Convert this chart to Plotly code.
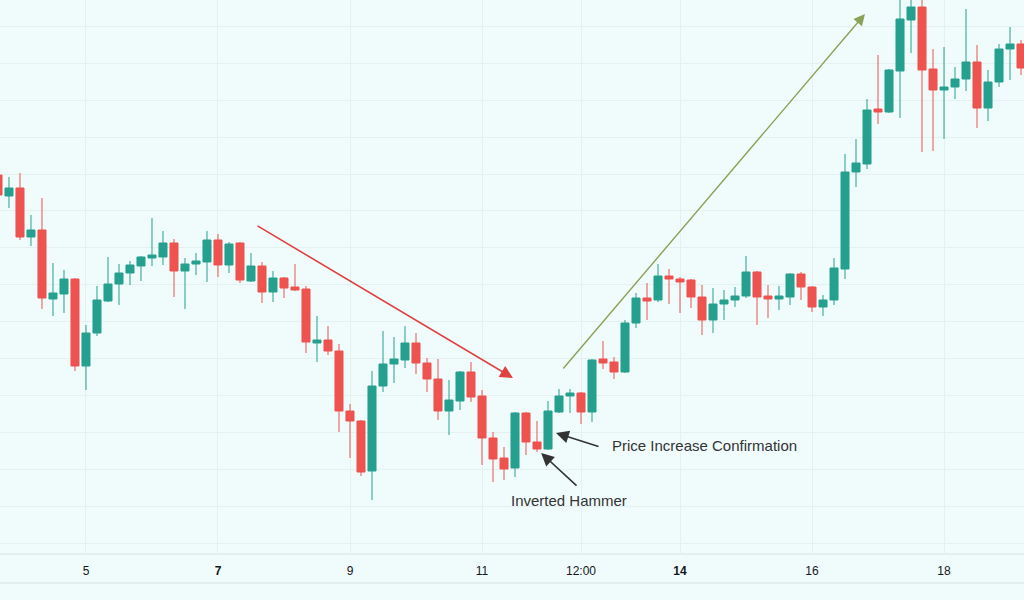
import pandas as pd
import plotly.graph_objects as go

# ============================================
# DATA  (4h candles; price in chart units)
# ============================================
first_bar = "2023-08-03 16:00"

opens = [425, 404, 412, 363, 370, 301, 306, 321, 234, 267,
         299, 316, 327, 334, 342, 343, 357, 329, 336, 338,
         360, 335, 357, 319, 334, 308, 322, 313, 311, 257,
         260, 249, 189, 179, 129, 214, 236, 240, 257, 237,
         221, 189, 199, 228, 204, 162, 142, 132, 187, 158,
         151, 188, 204, 207, 188, 241, 238, 228, 277, 302,
         300, 324, 321, 320, 303, 280, 296, 300, 304, 328,
         304, 301, 303, 326, 313, 293, 300, 331, 428, 436,
         491, 488, 529, 580, 593, 531, 510, 513, 521, 538,
         492, 518, 551, 556]
highs = [428, 423, 427, 385, 402, 337, 330, 322, 275, 314,
         343, 336, 339, 344, 382, 369, 361, 342, 347, 369,
         366, 358, 358, 347, 338, 329, 323, 336, 314, 284,
         274, 256, 196, 180, 229, 269, 263, 274, 267, 242,
         241, 220, 229, 238, 210, 168, 153, 188, 188, 179,
         199, 211, 211, 208, 241, 259, 243, 280, 307, 317,
         336, 331, 323, 321, 315, 312, 310, 313, 344, 329,
         315, 314, 327, 328, 314, 305, 342, 446, 461, 501,
         545, 531, 610, 610, 610, 551, 553, 533, 591, 555,
         530, 556, 573, 560]
lows = [402, 392, 360, 354, 291, 284, 287, 229, 210, 264,
        298, 295, 315, 319, 334, 335, 303, 291, 325, 318,
        323, 327, 317, 318, 297, 298, 302, 309, 247, 238,
        245, 168, 142, 124, 100, 208, 217, 232, 226, 208,
        180, 165, 190, 198, 135, 118, 120, 123, 145, 148,
        150, 187, 187, 176, 178, 231, 221, 227, 272, 280,
        298, 296, 287, 292, 265, 267, 280, 293, 302, 275,
        282, 290, 295, 300, 288, 284, 295, 321, 413, 431,
        476, 487, 482, 547, 448, 449, 461, 501, 509, 472,
        479, 513, 520, 525]
closes = [405, 412, 363, 370, 302, 307, 321, 234, 267, 300,
          316, 327, 335, 343, 345, 357, 329, 336, 339, 360,
          335, 356, 320, 334, 308, 322, 312, 310, 258, 260,
          249, 189, 179, 128, 214, 236, 241, 257, 237, 221,
          189, 200, 228, 203, 162, 141, 131, 187, 158, 151,
          189, 204, 207, 188, 240, 237, 228, 277, 302, 299,
          324, 321, 318, 303, 280, 296, 300, 304, 328, 303,
          301, 304, 326, 313, 293, 300, 332, 428, 437, 490,
          488, 530, 581, 593, 530, 510, 513, 521, 538, 492,
          518, 551, 556, 532]

tick_dates = ["2023-08-05", "2023-08-07", "2023-08-09", "2023-08-11",
              "2023-08-12 12:00", "2023-08-14", "2023-08-16", "2023-08-18"]
tick_labels = ["5", "<b>7</b>", "9", "11", "12:00", "<b>14</b>", "16", "18"]

times = pd.date_range(first_bar, periods=len(opens), freq="4h")

# ============================================
# COLORS
# ============================================
C = {
    'bg':    '#f0fcfc',
    'grid':  '#e5f1f1',
    'up':    '#26a08e',
    'down':  '#ee5350',
    'red':   '#df4040',
    'olive': '#88a356',
    'text':  '#333333',
    'axis':  '#131722',
}

fig = go.Figure()

fig.add_trace(go.Candlestick(
    x=times, open=opens, high=highs, low=lows, close=closes,
    increasing=dict(line=dict(color=C['up'], width=1), fillcolor=C['up']),
    decreasing=dict(line=dict(color=C['down'], width=1), fillcolor=C['down']),
    whiskerwidth=0,
    showlegend=False,
))

# --- trend arrows
arrows = [
    # (head x, head y, tail x, tail y, color, width)
    ("2023-08-11 11:15", 222, "2023-08-07 13:50", 375, C['red'], 1.6),
    ("2023-08-16 19:15", 586, "2023-08-12 05:05", 230, C['olive'], 1.4),
    ("2023-08-12 02:55", 167, "2023-08-12 18:55", 153, C['text'], 1.6),
    ("2023-08-11 21:30", 147, "2023-08-12 10:55", 113, C['text'], 1.6),
]
for hx, hy, tx, ty, col, w in arrows:
    fig.add_annotation(
        x=hx, y=hy, ax=tx, ay=ty,
        xref='x', yref='y', axref='x', ayref='y',
        text='', showarrow=True,
        arrowhead=2, arrowsize=1.6, arrowwidth=w, arrowcolor=col,
        standoff=0, startstandoff=0,
    )

# --- labels
fig.add_annotation(
    x="2023-08-12 22:30", y=155, xref='x', yref='y',
    text="Price Increase Confirmation", showarrow=False,
    xanchor='left', yanchor='middle',
    font=dict(size=15, color=C['text'], family='Liberation Sans'),
)
fig.add_annotation(
    x="2023-08-12 07:40", y=100, xref='x', yref='y',
    text="Inverted Hammer", showarrow=False,
    xanchor='center', yanchor='middle',
    font=dict(size=15, color=C['text'], family='Liberation Sans'),
)

# --- time-axis bottom border
fig.add_shape(type='line', xref='paper', yref='paper',
              x0=0, x1=1, y0=-0.0542, y1=-0.0542,
              line=dict(color='#e4eeee', width=2))

# ============================================
# LAYOUT
# ============================================
fig.update_layout(
    width=1024, height=600,
    paper_bgcolor=C['bg'],
    plot_bgcolor=C['bg'],
    margin=dict(l=0, r=0, t=0, b=47),
    boxgap=0.27, boxgroupgap=0,
    font=dict(family='Liberation Sans', color=C['axis']),
)

fig.update_xaxes(
    range=["2023-08-03 16:44", "2023-08-19 05:05"],
    rangeslider=dict(visible=False),
    tickvals=tick_dates, ticktext=tick_labels,
    tickfont=dict(size=12, color=C['axis']),
    ticks='outside', ticklen=6, tickcolor='rgba(0,0,0,0)',
    showgrid=True, gridcolor=C['grid'], gridwidth=1,
    showline=True, linecolor='#e4eeee', linewidth=2,
    zeroline=False,
)
fig.update_yaxes(
    range=[47, 600],
    tick0=57, dtick=36.9,
    showticklabels=False,
    showgrid=True, gridcolor=C['grid'], gridwidth=1,
    zeroline=False,
)

# page body has a default margin; drop it so the chart fills the window
fig.write_html("out.html",
               config={'displayModeBar': False},
               post_script="document.body.style.margin='0';")
